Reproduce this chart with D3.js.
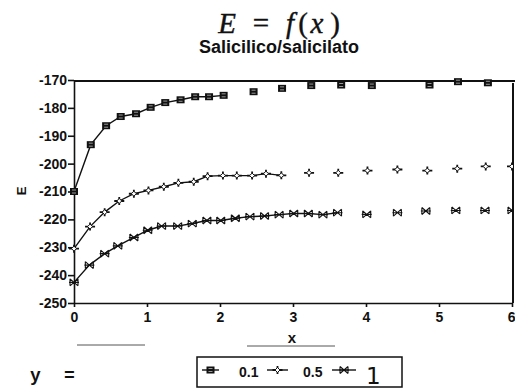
<!DOCTYPE html>
<html>
<head>
<meta charset="utf-8">
<script src="https://cdn.jsdelivr.net/npm/d3@7"></script>
<style>
  body { margin: 0; background: #fff; }
  svg { display: block; }
  .tick text { font-family: "Liberation Sans", Arial, sans-serif; font-weight: bold; font-size: 14px; fill: #111; }
</style>
</head>
<body>
<div class="chart"></div>
<script>
// E = f(x), salicilico/salicilato, three values of y

var series_names = ["0.1", "0.5", "1"];

var x_01 = [0, 0.23, 0.44, 0.64, 0.85, 1.05, 1.25, 1.46, 1.66, 1.85, 2.05, 2.46, 2.85, 3.25, 3.66, 4.08, 4.87, 5.26, 5.67];
var e_01 = [-210, -193.2, -186.4, -183.1, -182.1, -179.8, -178.1, -177.1, -176, -176, -175.5, -174.2, -173, -172, -171.8, -172, -171.8, -170.6, -171];

var x_05 = [0, 0.22, 0.42, 0.62, 0.82, 1.02, 1.23, 1.43, 1.64, 1.83, 2.04, 2.23, 2.44, 2.63, 2.84, 3.22, 3.62, 4.02, 4.43, 4.84, 5.25, 5.64, 6.0];
var e_05 = [-230.5, -222.6, -217.4, -213.4, -210.8, -209.6, -208.3, -206.9, -206.5, -204.5, -204.3, -204.3, -204.3, -203.6, -204.2, -203.3, -203.3, -202.5, -202.1, -202.5, -201.8, -201, -201];

var x_1 = [0, 0.21, 0.42, 0.6, 0.82, 1.01, 1.2, 1.42, 1.62, 1.82, 2.01, 2.21, 2.41, 2.61, 2.81, 3.01, 3.21, 3.41, 3.61, 4.01, 4.43, 4.82, 5.23, 5.63, 6.0];
var e_1 = [-242.6, -236.4, -232.3, -229.5, -226.5, -223.9, -222.4, -222.4, -221.5, -220.4, -220.4, -219.6, -219, -218.8, -218.3, -217.9, -217.9, -218.3, -217.6, -218.2, -217.6, -217, -216.8, -216.8, -216.8];

// how many leading points of each series are joined by a line
var joined_count = [11, 15, 19];

var x_ticks = [0, 1, 2, 3, 4, 5, 6];
var y_ticks = [-170, -180, -190, -200, -210, -220, -230, -240, -250];

var width = 515, height = 389;
var plot = {left: 74, right: 512, top: 80, bottom: 303};

var svg = d3.select('.chart')
    .append('svg')
        .attr('width', width)
        .attr('height', height);

var x = d3.scaleLinear().domain([0, 6]).range([plot.left, plot.right]);
var y = d3.scaleLinear().domain([-250, -170]).range([plot.bottom, plot.top]);

// title, set piece by piece like typeset math
var title_parts = [
    {t: "E", x: 227, it: true},
    {t: "=", x: 261, it: false},
    {t: "f", x: 290, it: true},
    {t: "(", x: 303, it: false},
    {t: "x", x: 317, it: true},
    {t: ")", x: 335, it: false}
];
title_parts.forEach(function(p) {
    svg.append("text")
        .attr("x", p.x)
        .attr("y", 33)
        .attr("text-anchor", "middle")
        .style("font-family", "'Liberation Serif', 'DejaVu Serif', serif")
        .style("font-style", p.it ? "italic" : "normal")
        .style("font-size", "29px")
        .style("fill", "#111")
        .style("stroke", "#111")
        .style("stroke-width", 0.4)
        .text(p.t);
});

svg.append("text")
    .attr("x", 279)
    .attr("y", 53)
    .attr("text-anchor", "middle")
    .style("font-family", "'Liberation Sans', Arial, sans-serif")
    .style("font-weight", "bold")
    .style("font-size", "18px")
    .style("fill", "#111")
    .text("Salicilico/salicilato");

// axes
svg.append("g")
    .attr("transform", "translate(" + plot.left + ",0)")
    .call(d3.axisLeft(y).tickValues(y_ticks).tickSize(6).tickSizeOuter(0).tickPadding(1)
        .tickFormat(function(d) { return "-" + Math.abs(d); }))
    .call(function(g) { g.selectAll("line, path").attr("stroke", "#111").attr("stroke-width", 1.6); });

svg.append("g")
    .attr("transform", "translate(0," + plot.bottom + ")")
    .call(d3.axisBottom(x).tickValues(x_ticks).tickSize(4).tickSizeOuter(0).tickPadding(5)
        .tickFormat(d3.format("d")))
    .call(function(g) {
        g.selectAll("line, path").attr("stroke", "#111").attr("stroke-width", 1.6);
        // last label sits against the page edge
        g.selectAll(".tick text").filter(function(d) { return d === 6; })
            .attr("text-anchor", "end").attr("dx", "3");
    });

// top and right frame
svg.append("line")
    .attr("x1", plot.left).attr("x2", width)
    .attr("y1", plot.top + 1).attr("y2", plot.top + 1)
    .attr("stroke", "#111").attr("stroke-width", 2);
svg.append("line")
    .attr("x1", plot.right + 1).attr("x2", plot.right + 1)
    .attr("y1", plot.top + 3).attr("y2", plot.bottom)
    .attr("stroke", "#111").attr("stroke-width", 2);

// axis titles
svg.append("text")
    .attr("transform", "translate(26,191) rotate(-90)")
    .attr("text-anchor", "middle")
    .style("font-family", "'Liberation Sans', Arial, sans-serif")
    .style("font-weight", "bold")
    .style("font-size", "13px")
    .style("fill", "#111")
    .text("E");

svg.append("text")
    .attr("x", 292)
    .attr("y", 343)
    .attr("text-anchor", "middle")
    .style("font-family", "'Liberation Sans', Arial, sans-serif")
    .style("font-weight", "bold")
    .style("font-size", "15px")
    .style("fill", "#111")
    .text("x");

// faint rules under the x label (from the scan)
svg.append("line").attr("x1", 77).attr("x2", 145).attr("y1", 345).attr("y2", 345)
    .attr("stroke", "#555").attr("stroke-width", 1);
svg.append("line").attr("x1", 247).attr("x2", 335).attr("y1", 346).attr("y2", 346)
    .attr("stroke", "#555").attr("stroke-width", 1);

// markers
function drawMarker(g, k) {
    if (k === 0) {
        g.append("rect").attr("x", -4).attr("y", -3.5).attr("width", 8).attr("height", 7)
            .attr("fill", "#111");
        g.append("path").attr("d", "M-2,-1.5L2,-1.5M-2,1.5L2,1.5")
            .attr("stroke", "#bbb").attr("stroke-width", 0.8);
    } else if (k === 1) {
        g.append("path").attr("d", "M-5,0L5,0M0,-4L0,4")
            .attr("stroke", "#111").attr("stroke-width", 1.8);
        g.append("path").attr("d", "M0,-2.5L2.5,0L0,2.5L-2.5,0Z")
            .attr("fill", "#fff").attr("stroke", "#111").attr("stroke-width", 1);
    } else {
        g.append("path").attr("d", "M-4,-3.5L-4,3.5M4,-3.5L4,3.5M-4,-3.5L4,3.5M-4,3.5L4,-3.5M-5,0L5,0")
            .attr("stroke", "#111").attr("stroke-width", 1.1).attr("fill", "none");
    }
}

svg.append("clipPath").attr("id", "plot-clip")
    .append("rect")
        .attr("x", plot.left - 8).attr("y", plot.top - 8)
        .attr("width", plot.right - plot.left + 9).attr("height", plot.bottom - plot.top + 16);

var all_x = [x_01, x_05, x_1];
var all_e = [e_01, e_05, e_1];

var line = d3.line()
    .x(function(d) { return x(d[0]); })
    .y(function(d) { return y(d[1]); });

var marks = svg.append("g").attr("clip-path", "url(#plot-clip)");

for (var k = 0; k < all_x.length; k++) {
    var pts = all_x[k].map(function(v, i) { return [v, all_e[k][i]]; });

    marks.append("path")
        .datum(pts.slice(0, joined_count[k]))
        .attr("d", line)
        .attr("fill", "none")
        .attr("stroke", "#111")
        .attr("stroke-width", 1.4);

    marks.selectAll(".pt" + k)
        .data(pts)
        .enter()
        .append("g")
            .attr("class", "pt" + k)
            .attr("transform", function(d) { return "translate(" + x(d[0]) + "," + y(d[1]) + ")"; })
            .each(function() { drawMarker(d3.select(this), k); });
}

// y = ... legend
svg.append("text")
    .attr("x", 30)
    .attr("y", 381)
    .style("font-family", "'Liberation Mono', 'DejaVu Sans Mono', monospace")
    .style("font-weight", "bold")
    .style("font-size", "18px")
    .style("fill", "#111")
    .text("y");
svg.append("text")
    .attr("x", 64)
    .attr("y", 381)
    .style("font-family", "'Liberation Mono', 'DejaVu Sans Mono', monospace")
    .style("font-weight", "bold")
    .style("font-size", "18px")
    .style("fill", "#111")
    .text("=");

var legend = svg.append("g");
legend.append("rect")
    .attr("x", 197).attr("y", 357)
    .attr("width", 205).attr("height", 30)
    .attr("fill", "none").attr("stroke", "#111").attr("stroke-width", 1.5);

var legend_items = [
    {x1: 202, x2: 219, label_x: 239},
    {x1: 267, x2: 288, label_x: 303},
    {x1: 332, x2: 356, label_x: 366}
];

legend_items.forEach(function(it, k) {
    legend.append("line")
        .attr("x1", it.x1).attr("x2", it.x2)
        .attr("y1", 370).attr("y2", 370)
        .attr("stroke", "#111").attr("stroke-width", 1.4);
    drawMarker(legend.append("g").attr("transform", "translate(" + ((it.x1 + it.x2) / 2) + ",370)"), k);
    var big = k === 2;
    legend.append("text")
        .attr("x", it.label_x)
        .attr("y", big ? 384 : 377)
        .style("font-family", big ? "'DejaVu Sans', sans-serif" : "'Liberation Sans', Arial, sans-serif")
        .style("font-weight", big ? "normal" : "bold")
        .style("font-size", big ? "23px" : "14px")
        .style("fill", "#111")
        .text(series_names[k]);
});
</script>
</body>
</html>
